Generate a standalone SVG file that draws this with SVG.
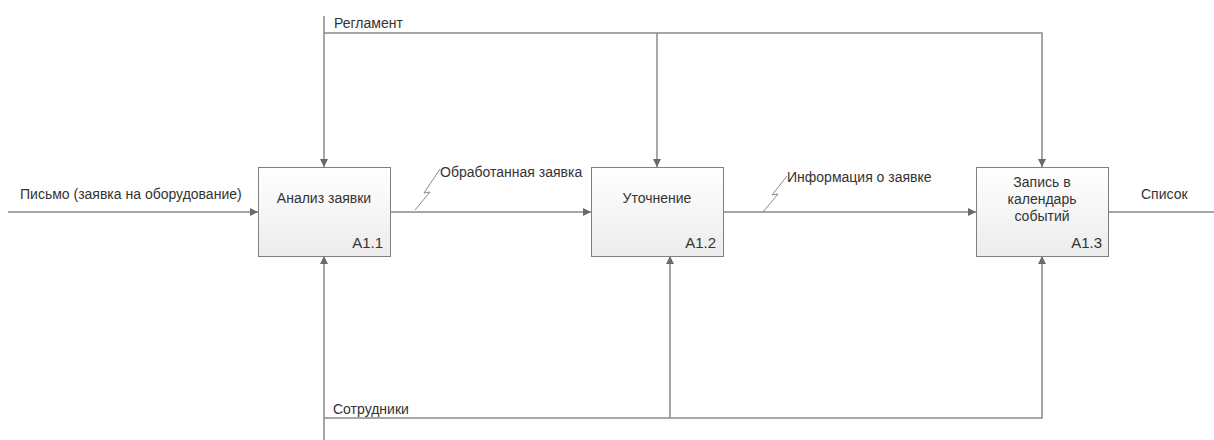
<svg xmlns="http://www.w3.org/2000/svg" width="1214" height="440" viewBox="0 0 1214 440">
  <style>
    .box { fill: url(#boxFill); stroke: #808080; stroke-width: 1; }
    .lbl { font-family: "Liberation Sans", Arial, sans-serif; font-size: 14px; fill: #333; }
    .ctr { text-anchor: middle; }
    .num { text-anchor: end; font-size: 15px; }
    .ln { fill: none; stroke: #8a8a8a; stroke-width: 1.5; }
    .sq { fill: none; stroke: #8a8a8a; stroke-width: 1; }
  </style>
  <defs>
    <linearGradient id="boxFill" x1="0" y1="0" x2="0" y2="1">
      <stop offset="0" stop-color="#ffffff"/>
      <stop offset="1" stop-color="#ececec"/>
    </linearGradient>
    <marker id="arr" viewBox="0 0 10 10" refX="10" refY="5" markerWidth="8" markerHeight="8" markerUnits="userSpaceOnUse" orient="auto">
      <path d="M0,0 L10,5 L0,10 z" fill="#6a6a6a"/>
    </marker>
  </defs>

  <!-- connectors -->
  <g id="connectors">
    <!-- input -->
    <path class="ln" d="M8,212 H258" marker-end="url(#arr)"/>
    <text class="lbl" x="20" y="199">Письмо (заявка на оборудование)</text>
    <!-- A1.1 -> A1.2 -->
    <path class="ln" d="M390,212 H591" marker-end="url(#arr)"/>
    <path class="sq" d="M415,210 L430,192 L424,193 L440,169"/>
    <text class="lbl" x="440" y="177">Обработанная заявка</text>
    <!-- A1.2 -> A1.3 -->
    <path class="ln" d="M723,212 H976" marker-end="url(#arr)"/>
    <path class="sq" d="M763,212 L778,194 L772,195 L787,176"/>
    <text class="lbl" x="787" y="182">Информация о заявке</text>
    <!-- output -->
    <path class="ln" d="M1109,212 H1214"/>
    <text class="lbl" x="1141" y="199">Список</text>
    <!-- control -->
    <path class="ln" d="M324,16 V167" marker-end="url(#arr)"/>
    <path class="ln" d="M324,33 H1042 V167" marker-end="url(#arr)"/>
    <path class="ln" d="M657,33 V167" marker-end="url(#arr)"/>
    <text class="lbl" x="334" y="28">Регламент</text>
    <!-- mechanism -->
    <path class="ln" d="M324,440 V256" marker-end="url(#arr)"/>
    <path class="ln" d="M324,418 H1042 V256" marker-end="url(#arr)"/>
    <path class="ln" d="M670,418 V256" marker-end="url(#arr)"/>
    <text class="lbl" x="333" y="414">Сотрудники</text>
  </g>

  <g id="A11">
    <rect class="box" x="258.5" y="167.5" width="132" height="89"/>
    <text class="lbl ctr" x="324" y="203">Анализ заявки</text>
    <text class="lbl num" x="383" y="248">A1.1</text>
  </g>

  <g id="A12">
    <rect class="box" x="591.5" y="167.5" width="132" height="89"/>
    <text class="lbl ctr" x="657" y="203">Уточнение</text>
    <text class="lbl num" x="716" y="248">A1.2</text>
  </g>

  <g id="A13">
    <rect class="box" x="976.5" y="167.5" width="132" height="89"/>
    <text class="lbl ctr" x="1042" y="187">Запись в</text>
    <text class="lbl ctr" x="1042" y="204">календарь</text>
    <text class="lbl ctr" x="1042" y="221">событий</text>
    <text class="lbl num" x="1102" y="248">A1.3</text>
  </g>
</svg>
